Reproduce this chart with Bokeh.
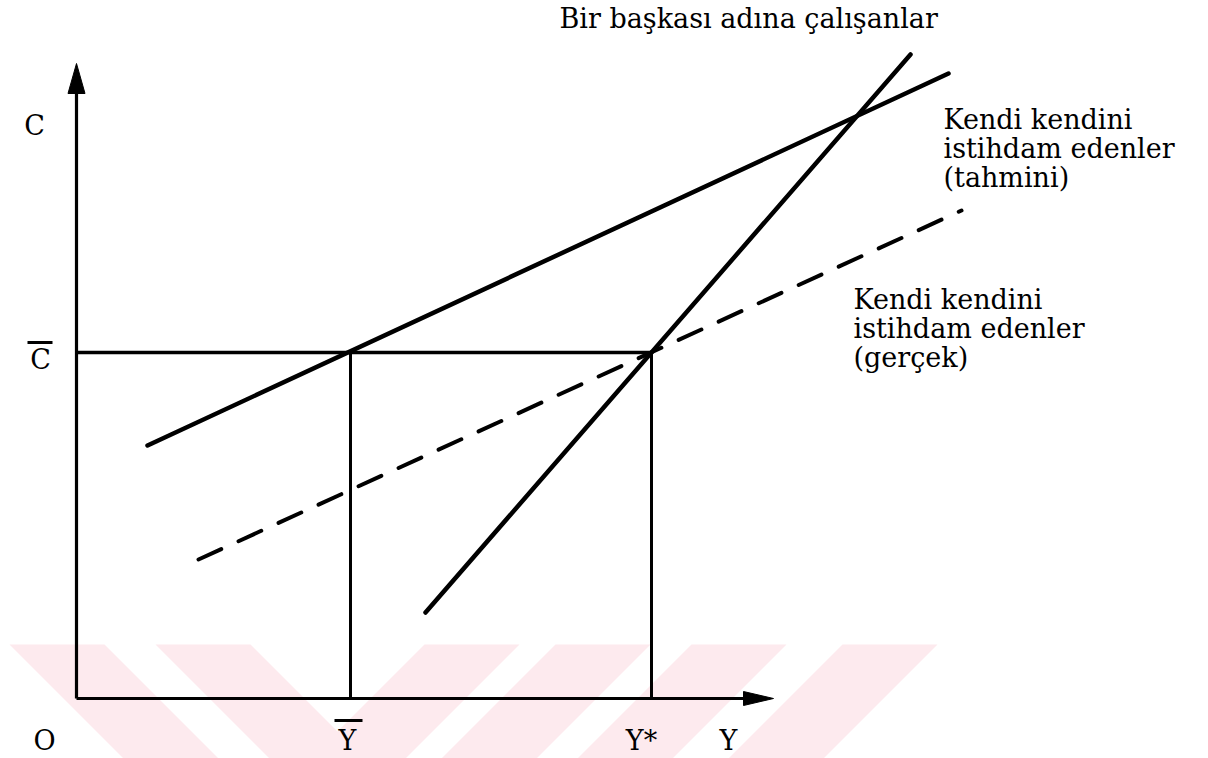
from bokeh.plotting import figure
from bokeh.models import Range1d
from bokeh.core.properties import value
from bokeh.embed import file_html
from bokeh.resources import INLINE

# --- Diagram values (income Y on x, consumption C on y; origin at O) ---
Y_BAR = 27.4          # income where estimated self-employed curve meets C-bar
Y_STAR = 57.5         # income where wage-earner curve meets C-bar
C_BAR = 34.6          # consumption level C-bar
X_AXIS_END = 69.7
Y_AXIS_END = 63.5

# Wage earners: "Bir başkası adına çalışanlar"
employed_x = [34.9, 83.4]
employed_y = [8.6, 64.4]

# Self-employed, estimated: "(tahmini)"
self_est_x = [7.1, 87.2]
self_est_y = [25.3, 62.5]

# Self-employed, actual: "(gerçek)"
self_act_x = [12.2, 88.5]
self_act_y = [13.9, 48.8]

title_text = "Bir başkası adına çalışanlar"
est_label = ["Kendi kendini", "istihdam edenler", "(tahmini)"]
act_label = ["Kendi kendini", "istihdam edenler", "(gerçek)"]
c_label = "C"
cbar_label = "C"
bottom_labels = ["O", "Y", "Y*", "Y"]

FONT = value("DejaVu Serif")
INK = "black"
SIZE = "27px"

p = figure(width=1208, height=758, output_backend="svg", toolbar_location=None,
           x_range=Range1d(-7.6, 113.2), y_range=Range1d(-6.0, 69.8),
           x_axis_type=None, y_axis_type=None, min_border=0)
p.grid.visible = False
p.outline_line_color = None
p.background_fill_color = "white"
p.border_fill_color = "white"

# --- faint diagonal stripe watermark along the bottom edge ---
band_top, band_bot = 5.4, -6.0
slant = 11.4
back_tops = [-6.7, 7.9]               # "\" stripes, left edges at top
fwd_tops = [34.8, 47.9, 61.5, 76.6]   # "/" stripes, left edges at top
stripe_w = 9.5
xs, ys = [], []
for x0 in back_tops:
    xs.append([x0, x0 + stripe_w, x0 + stripe_w + slant, x0 + slant])
    ys.append([band_top, band_top, band_bot, band_bot])
for x0 in fwd_tops:
    xs.append([x0, x0 + stripe_w, x0 + stripe_w - slant, x0 - slant])
    ys.append([band_top, band_top, band_bot, band_bot])
p.patches(xs, ys, fill_color="#fdeaee", line_color=None)

# --- axes with arrow heads ---
head_len, head_half = 3.0, 0.85
p.line([0, 0], [0, Y_AXIS_END - head_len + 0.2], line_color=INK, line_width=3.2)
p.line([0, X_AXIS_END - head_len + 0.2], [0, 0], line_color=INK, line_width=3.2)
p.patch([0, -head_half, head_half], [Y_AXIS_END, Y_AXIS_END - head_len, Y_AXIS_END - head_len],
        fill_color=INK, line_color=INK, line_width=1)
p.patch([X_AXIS_END, X_AXIS_END - head_len, X_AXIS_END - head_len], [0, 0.7, -0.7],
        fill_color=INK, line_color=INK, line_width=1)

# --- guide lines: C-bar level and the two incomes ---
p.line([0, Y_STAR], [C_BAR, C_BAR], line_color=INK, line_width=3.4)
p.line([Y_BAR, Y_BAR], [0, C_BAR], line_color=INK, line_width=3)
p.line([Y_STAR, Y_STAR], [0, C_BAR], line_color=INK, line_width=3)

# --- consumption schedules ---
p.line(self_est_x, self_est_y, line_color=INK, line_width=4.5, line_cap="round")
p.line(employed_x, employed_y, line_color=INK, line_width=4.5, line_cap="round")
p.line(self_act_x, self_act_y, line_color=INK, line_width=4, line_dash="25 19",
       line_cap="round")

# --- texts (positions are vertical centres) ---
def label(x, y, t, size=SIZE, align="left"):
    p.text(x=[x], y=[y], text=[t], text_font=FONT, text_font_size=size,
           text_align=align, text_baseline="middle", text_color=INK)

label(48.3, 68.0, title_text)
for t, yy in zip(est_label, [57.9, 55.0, 52.1]):
    label(86.7, yy, t)
for t, yy in zip(act_label, [39.9, 37.0, 34.1]):
    label(77.7, yy, t)

label(-4.2, 57.3, c_label, align="center")
label(-3.6, 33.9, cbar_label, align="center")
p.line([-4.9, -2.4], [35.6, 35.6], line_color=INK, line_width=3)

label(-3.2, -4.2, bottom_labels[0], align="center")
label(Y_BAR - 0.3, -4.2, bottom_labels[1], align="center")
p.line([Y_BAR - 1.6, Y_BAR + 1.2], [-2.2, -2.2], line_color=INK, line_width=3)
label(Y_STAR - 1.0, -4.2, bottom_labels[2], align="center")
label(65.2, -4.2, bottom_labels[3], align="center")

open("out.html", "w").write(file_html(p, INLINE))
